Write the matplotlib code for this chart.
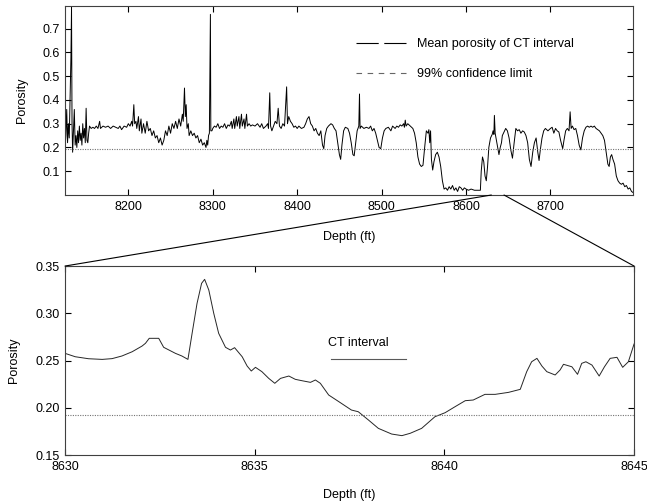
import matplotlib
matplotlib.use("Agg")
import matplotlib.pyplot as plt
from matplotlib.lines import Line2D
from matplotlib.patches import ConnectionPatch

plt.rcParams['font.family'] = ['Liberation Sans', 'DejaVu Sans']

# porosity log over the whole well
log_depth = [
    8125, 8126, 8127, 8128, 8129, 8130, 8131, 8132, 8132.7, 8133.3, 8134, 8135, 8136, 8137, 8138,
    8139, 8140, 8141, 8142, 8143, 8144, 8145, 8146, 8147, 8148, 8149, 8150, 8151, 8152, 8153,
    8154, 8156, 8158, 8160, 8162, 8164, 8166, 8167, 8170, 8173, 8176, 8179, 8182, 8185, 8188,
    8190, 8192, 8195, 8198, 8200, 8202, 8204, 8205, 8206.5, 8207.5, 8209, 8210, 8212, 8213, 8215,
    8216, 8218, 8220, 8222, 8224, 8226, 8228, 8230, 8232, 8234, 8236, 8238, 8240, 8242, 8244,
    8246, 8248, 8250, 8252, 8254, 8256, 8258, 8260, 8262, 8264, 8265, 8266.5, 8267.5, 8268.5, 8269.5,
    8271, 8272, 8274, 8276, 8278, 8280, 8282, 8284, 8286, 8288, 8290, 8292, 8293, 8294, 8295,
    8296, 8296.8, 8297.2, 8297.7, 8299, 8300, 8302, 8304, 8306, 8308, 8310, 8312, 8314, 8316, 8318,
    8320, 8322, 8323, 8325, 8326, 8328, 8329, 8331, 8332, 8334, 8335, 8337, 8338, 8340, 8341,
    8343, 8345, 8347, 8350, 8353, 8356, 8358, 8360, 8363, 8365, 8366, 8367.5, 8368.5, 8370, 8372,
    8374, 8376, 8377.5, 8379, 8381, 8383, 8385, 8387.5, 8388.5, 8390, 8392, 8394, 8396, 8398, 8400,
    8402, 8405, 8408, 8410, 8412, 8414, 8416, 8418, 8420, 8422, 8424, 8426, 8428, 8430, 8431.5,
    8433, 8435, 8437, 8440, 8442, 8444, 8446, 8448, 8450, 8451.5, 8453, 8455, 8457, 8460, 8462,
    8464, 8466, 8467.5, 8469, 8471, 8473, 8473.8, 8474.5, 8476, 8479, 8482, 8485, 8487, 8489, 8491,
    8493, 8495, 8497, 8499, 8501, 8503, 8505, 8508, 8511, 8513, 8516, 8518, 8520, 8522, 8524,
    8526, 8527, 8528, 8529, 8531, 8534, 8537, 8539, 8541, 8543, 8545, 8547, 8549, 8551, 8553,
    8555, 8556, 8557, 8558, 8559, 8560.5, 8562, 8564, 8566, 8568, 8570, 8572, 8574, 8576, 8578,
    8580, 8582, 8584, 8586, 8588, 8590, 8592, 8594, 8596, 8598, 8600, 8603, 8606, 8610, 8614,
    8617, 8618, 8619.5, 8621, 8622.5, 8624, 8625.5, 8627, 8629, 8631, 8632, 8633, 8633.6, 8634.5, 8636,
    8638, 8639, 8640.5, 8642, 8643, 8645, 8647, 8649, 8651, 8653, 8655, 8657, 8659, 8661, 8663,
    8665, 8667, 8669, 8671, 8673, 8675, 8677, 8679, 8681, 8683, 8685, 8686.5, 8688, 8690, 8692,
    8694, 8697, 8700, 8702, 8704, 8706, 8708, 8710, 8712, 8714.5, 8716, 8718, 8720, 8722, 8723.3,
    8724.5, 8726, 8728, 8730, 8732, 8734, 8736, 8738, 8740, 8742, 8744, 8746, 8748, 8750, 8752,
    8754, 8756, 8758, 8760, 8762, 8764, 8766, 8768, 8769.5, 8771, 8772.5, 8774, 8776, 8778, 8780,
    8782, 8784, 8786, 8788, 8790, 8792, 8794, 8796, 8798,
]
log_porosity = [
    0.19, 0.25, 0.36, 0.22, 0.30, 0.24, 0.42, 0.58, 0.79, 0.30, 0.18, 0.27, 0.36, 0.21, 0.25,
    0.20, 0.27, 0.22, 0.29, 0.23, 0.26, 0.21, 0.30, 0.24, 0.28, 0.22, 0.365, 0.23, 0.22, 0.26,
    0.29, 0.28, 0.285, 0.28, 0.29, 0.28, 0.31, 0.28, 0.29, 0.285, 0.29, 0.28, 0.29, 0.285, 0.28,
    0.29, 0.275, 0.29, 0.285, 0.30, 0.29, 0.31, 0.29, 0.38, 0.30, 0.31, 0.28, 0.33, 0.27, 0.32,
    0.26, 0.30, 0.26, 0.31, 0.27, 0.28, 0.25, 0.27, 0.24, 0.25, 0.22, 0.24, 0.21, 0.23, 0.27,
    0.25, 0.29, 0.26, 0.30, 0.28, 0.31, 0.28, 0.32, 0.29, 0.34, 0.31, 0.45, 0.33, 0.38, 0.28,
    0.30, 0.25, 0.27, 0.25, 0.26, 0.24, 0.25, 0.22, 0.235, 0.21, 0.22, 0.20, 0.23, 0.21, 0.25,
    0.26, 0.62, 0.76, 0.27, 0.27, 0.28, 0.29, 0.285, 0.30, 0.28, 0.29, 0.285, 0.30, 0.28, 0.295,
    0.29, 0.31, 0.28, 0.32, 0.28, 0.33, 0.29, 0.33, 0.28, 0.34, 0.29, 0.32, 0.28, 0.34, 0.29,
    0.30, 0.29, 0.295, 0.29, 0.30, 0.285, 0.30, 0.28, 0.29, 0.30, 0.28, 0.43, 0.29, 0.27, 0.29,
    0.31, 0.30, 0.365, 0.29, 0.28, 0.30, 0.29, 0.455, 0.30, 0.33, 0.31, 0.30, 0.285, 0.29, 0.28,
    0.29, 0.28, 0.285, 0.30, 0.32, 0.33, 0.30, 0.29, 0.27, 0.28, 0.26, 0.25, 0.27, 0.21, 0.195,
    0.25, 0.28, 0.29, 0.30, 0.295, 0.28, 0.27, 0.22, 0.17, 0.15, 0.21, 0.27, 0.285, 0.28, 0.26,
    0.22, 0.17, 0.165, 0.21, 0.27, 0.29, 0.425, 0.28, 0.29, 0.28, 0.285, 0.28, 0.29, 0.27, 0.28,
    0.26, 0.23, 0.20, 0.195, 0.24, 0.27, 0.28, 0.285, 0.27, 0.29, 0.28, 0.29, 0.285, 0.295, 0.29,
    0.30, 0.285, 0.315, 0.29, 0.30, 0.29, 0.28, 0.26, 0.22, 0.16, 0.13, 0.12, 0.125, 0.20, 0.27,
    0.26, 0.275, 0.22, 0.27, 0.15, 0.105, 0.14, 0.17, 0.18, 0.16, 0.12, 0.06, 0.025, 0.03, 0.02,
    0.035, 0.025, 0.04, 0.02, 0.03, 0.015, 0.035, 0.03, 0.02, 0.03, 0.025, 0.02, 0.025, 0.02, 0.02,
    0.02, 0.10, 0.16, 0.14, 0.08, 0.06, 0.12, 0.20, 0.24, 0.255, 0.27, 0.255, 0.335, 0.26, 0.23,
    0.19, 0.17, 0.20, 0.22, 0.25, 0.265, 0.28, 0.27, 0.24, 0.19, 0.155, 0.22, 0.28, 0.27, 0.275,
    0.26, 0.27, 0.265, 0.25, 0.22, 0.15, 0.12, 0.18, 0.22, 0.24, 0.18, 0.145, 0.19, 0.24, 0.27,
    0.28, 0.27, 0.28, 0.285, 0.26, 0.28, 0.27, 0.265, 0.23, 0.195, 0.23, 0.27, 0.28, 0.27, 0.35,
    0.28, 0.29, 0.275, 0.28, 0.25, 0.21, 0.19, 0.24, 0.27, 0.285, 0.29, 0.285, 0.29, 0.285, 0.29,
    0.28, 0.275, 0.27, 0.26, 0.25, 0.23, 0.18, 0.13, 0.12, 0.16, 0.17, 0.15, 0.13, 0.08, 0.06,
    0.05, 0.045, 0.05, 0.035, 0.04, 0.025, 0.03, 0.015, 0.01,
]

# detail of the CT interval
zoom_depth = [
    8630.0, 8630.27, 8630.62, 8630.98, 8631.24, 8631.5, 8631.77, 8632.03, 8632.12, 8632.22,
    8632.47, 8632.6, 8632.91, 8633.08, 8633.24, 8633.35, 8633.48, 8633.6, 8633.68, 8633.79,
    8633.92, 8634.05, 8634.23, 8634.36, 8634.47, 8634.67, 8634.8, 8634.91, 8635.02, 8635.19,
    8635.37, 8635.53, 8635.68, 8635.9, 8636.07, 8636.25, 8636.47, 8636.6, 8636.73, 8636.95,
    8637.22, 8637.55, 8637.73, 8638.0, 8638.26, 8638.61, 8638.88, 8639.1, 8639.4, 8639.75,
    8640.02, 8640.28, 8640.55, 8640.76, 8641.07, 8641.34, 8641.69, 8642.0, 8642.17, 8642.3,
    8642.44, 8642.57, 8642.7, 8642.92, 8643.05, 8643.14, 8643.36, 8643.51, 8643.62, 8643.73,
    8643.89, 8644.08, 8644.22, 8644.37, 8644.55, 8644.7, 8644.85, 8645.0,
]
zoom_porosity = [
    0.2576, 0.254, 0.2519, 0.2512, 0.252, 0.2548, 0.2593, 0.2653, 0.2682, 0.2735,
    0.2735, 0.264, 0.2576, 0.2548, 0.2512, 0.2788, 0.3105, 0.3317, 0.3359, 0.3246,
    0.300, 0.2788, 0.264, 0.2611, 0.2636, 0.254, 0.2442, 0.2389, 0.2428, 0.2382,
    0.2311, 0.2259, 0.2311, 0.2336, 0.2301, 0.2286, 0.2269, 0.2294, 0.2259, 0.2135,
    0.2064, 0.1976, 0.1958, 0.187, 0.1782, 0.1722, 0.1705, 0.173, 0.1782, 0.1905,
    0.1948, 0.2011, 0.2075, 0.2082, 0.2142, 0.2142, 0.2163, 0.2195, 0.2382, 0.2487,
    0.2523, 0.2442, 0.2382, 0.2347, 0.240, 0.246, 0.2434, 0.2354, 0.247, 0.2487,
    0.2452, 0.2336, 0.2434, 0.2523, 0.2534, 0.2428, 0.2487, 0.2675,
]

confidence_limit = 0.192
ct_depth = [8637.0, 8639.0]
ct_mean = [0.252, 0.252]

fs = 9
fig = plt.figure(figsize=(6.47, 5.03), dpi=100)
ax1 = fig.add_axes([0.1005, 0.6123, 0.8775, 0.3757])
ax2 = fig.add_axes([0.1005, 0.0954, 0.8795, 0.3757])

# --- whole log
ax1.plot(log_depth, log_porosity, color='black', lw=0.7)
ax1.axhline(confidence_limit, color='0.45', lw=0.8, linestyle=(0, (1, 1.2)))
ax1.set_xlim(8125, 8797.5)
ax1.set_ylim(0, 0.795)
ax1.set_xticks([8200, 8300, 8400, 8500, 8600, 8700])
ax1.set_yticks([0.1, 0.2, 0.3, 0.4, 0.5, 0.6, 0.7])
ax1.set_yticklabels(['0.1', '0.2', '0.3', '0.4', '0.5', '0.6', '0.7'])
ax1.set_xlabel('Depth (ft)', fontsize=fs, labelpad=13)
ax1.set_ylabel('Porosity', fontsize=fs, labelpad=10)

handles = [
    Line2D([], [], color='black', lw=0.8, linestyle=(0, (20, 5))),
    Line2D([], [], color='0.4', lw=0.8, linestyle=(0, (5, 5))),
]
ax1.legend(handles, ['Mean porosity of CT interval', '99% confidence limit'],
           loc='upper left', bbox_to_anchor=(0.512, 0.83), frameon=False,
           fontsize=fs, handlelength=4.25, handletextpad=0.62, labelspacing=1.45,
           borderpad=0, borderaxespad=0)

# --- CT interval detail
ax2.plot(zoom_depth, zoom_porosity, color='0.15', lw=0.7)
ax2.axhline(confidence_limit, color='0.45', lw=0.8, linestyle=(0, (1, 1.2)))
ax2.plot(ct_depth, ct_mean, color='0.35', lw=0.8)
ax2.text(8636.92, 0.2685, 'CT interval', fontsize=fs, va='center', ha='left')
ax2.set_xlim(8630, 8645)
ax2.set_ylim(0.15, 0.35)
ax2.set_xticks([8630, 8635, 8640, 8645])
ax2.set_yticks([0.15, 0.20, 0.25, 0.30, 0.35])
ax2.set_yticklabels(['0.15', '0.20', '0.25', '0.30', '0.35'])
ax2.set_xlabel('Depth (ft)', fontsize=fs, labelpad=12)
ax2.set_ylabel('Porosity', fontsize=fs, labelpad=11)

for ax in (ax1, ax2):
    ax.tick_params(direction='in', top=True, right=True, length=4, width=0.8,
                   labelsize=fs, pad=4)
    for s in ax.spines.values():
        s.set_color('0.25')
        s.set_linewidth(0.8)

# lines linking the detail window to the whole log
for d in (8630, 8645):
    con = ConnectionPatch(xyA=(d, 0), coordsA=ax1.transData,
                          xyB=(d, 0.35), coordsB=ax2.transData,
                          color='black', lw=0.8)
    fig.add_artist(con)

fig.savefig('out.png', dpi=100)
